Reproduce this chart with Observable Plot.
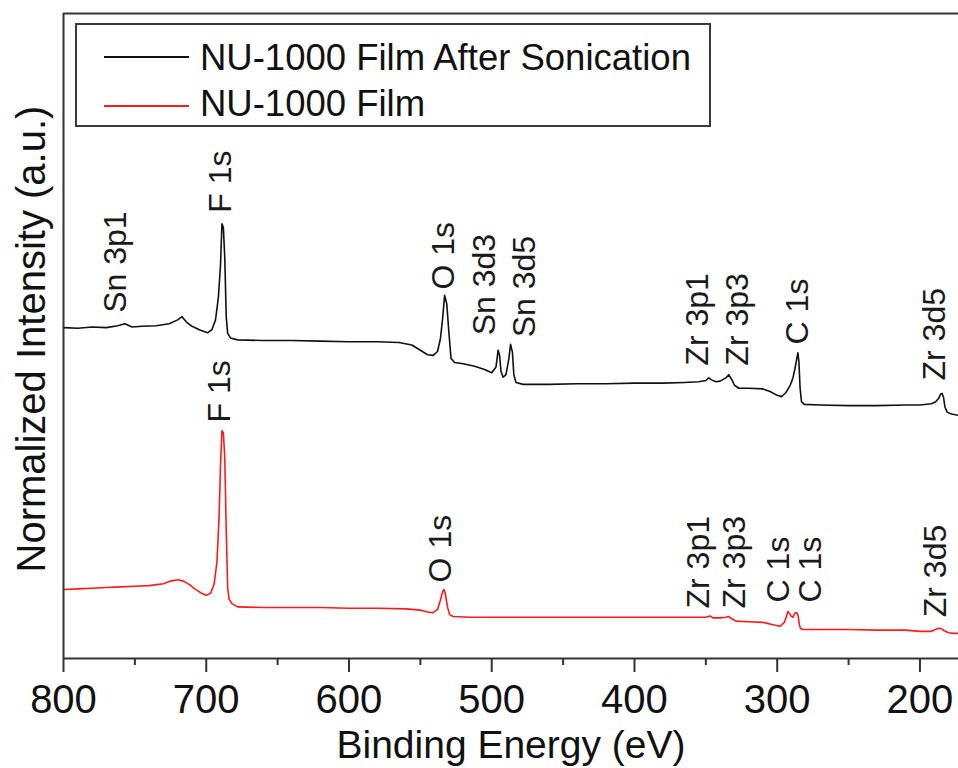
<!DOCTYPE html>
<html><head><meta charset="utf-8">
<script src="https://cdn.jsdelivr.net/npm/d3@7"></script>
<script src="https://cdn.jsdelivr.net/npm/@observablehq/plot@0.6"></script>
<style>
body{margin:0;background:#fff;}
#wrap{position:relative;width:958px;height:768px;font-family:"Liberation Sans",Arial,sans-serif;}
#legend{position:absolute;left:75px;top:23px;width:632px;height:100px;border:2px solid #3a3a3a;background:#fff;}
.sw{position:absolute;left:104px;width:85px;height:2px;}
.lt{position:absolute;left:200px;font-size:36.5px;line-height:36px;color:#111;white-space:nowrap;}
</style></head><body><div id="wrap"></div>
<script>
// Series: NU-1000 Film After Sonication (black)
const sonicEV = [
 800,790,780,770,762,757,752,745,735,726,
 720,717,714,710,704,699,696,693.5,691.5,690,
 689,688,687,686,685,683,678,660,640,620,
 600,580,565,556,550,545,541,538,536,534.5,
 533,531.5,530,528.5,526,520,512,505,500,497,
 495.5,494.5,493.5,492,490,488,486.8,485.5,484.5,483,
 478,460,440,420,400,380,365,355,350,348,
 346,343,340,336,334,332,330,327,320,310,
 305,300,297,294,291,289,287.5,286.3,285.5,284.8,
 284,283,281,270,250,230,210,200,192,189,
 187,185.5,184.5,183.5,182.5,181,178,173];
const sonicI = [
 51.3,51.2,51.4,51.3,51.6,51.9,51.4,51.5,51.6,51.9,
 52.5,53.0,52.2,51.5,50.9,50.5,51.0,52.5,56.0,61.0,
 67.4,66.8,62.0,53.0,50.4,49.7,49.4,49.3,49.3,49.2,
 49.1,49.1,49.0,48.6,47.8,47.1,47.0,47.6,49.5,52.5,
 56.3,55.0,50.5,46.5,45.9,45.7,45.3,44.8,44.3,45.2,
 47.8,47.0,44.5,43.6,44.0,46.5,48.7,47.5,44.0,42.8,
 42.5,42.5,42.6,42.6,42.7,42.7,42.8,42.9,43.1,43.5,
 43.2,42.9,43.0,43.5,44.0,43.3,42.4,41.9,41.9,41.8,
 41.4,40.8,40.6,41.2,42.3,43.5,45.0,46.5,47.4,46.0,
 42.0,39.8,39.4,39.3,39.2,39.2,39.3,39.3,39.5,39.8,
 40.3,41.0,41.1,40.5,39.0,38.2,37.9,37.7];

// Series: NU-1000 Film (red)
const filmEV = [
 800,790,780,770,760,750,740,730,725,720,
 716,712,708,704,700,697,694.5,692.5,691,690,
 689,688,687,686,685,684,682,678,660,640,
 620,600,580,560,550,545,541,538,536,534.5,
 533.5,532.5,531,529.5,527,515,500,480,460,440,
 420,400,380,360,350,347,345,340,336,334,
 332,329,320,310,302,298,295,293.5,292.5,291.5,
 290,289,288,287,286.2,285.3,284.5,283.5,282,270,
 250,230,210,200,193,190,188,186.5,185,183,
 180,176,173];
const filmI = [
 10.7,10.8,10.9,11.0,11.1,11.2,11.3,11.6,12.0,12.2,
 12.0,11.5,10.8,10.2,9.8,10.1,11.5,15.0,22.0,30.0,
 35.3,35.0,31.0,20.0,11.0,9.2,8.5,8.0,7.9,7.9,
 7.9,7.8,7.8,7.7,7.5,7.2,7.1,7.6,9.0,10.3,
 10.7,10.0,8.0,6.8,6.5,6.4,6.4,6.4,6.4,6.4,
 6.4,6.4,6.4,6.4,6.4,6.6,6.3,6.3,6.4,6.5,
 6.2,5.8,5.7,5.6,5.2,5.0,5.6,6.6,7.3,7.0,
 6.5,6.4,6.9,7.1,7.1,6.6,5.2,4.6,4.5,4.5,
 4.5,4.4,4.4,4.2,4.2,4.4,4.6,4.7,4.6,4.3,
 4.0,3.9,3.9];

// Peak labels
const sonicLabelText = ["Sn 3p1","F 1s","O 1s","Sn 3d3","Sn 3d5","Zr 3p1","Zr 3p3","C 1s","Zr 3d5"];
const sonicLabelEV   = [763.6, 690.0, 533.6, 504.9, 476.9, 355.6, 327.6, 285.5, 189.5];
const sonicLabelI    = [53.6, 69.1, 57.2, 50.1, 49.8, 45.4, 45.4, 48.7, 43.1];
const filmLabelText = ["F 1s","O 1s","Zr 3p1","Zr 3p3","C 1s","C 1s","Zr 3d5"];
const filmLabelEV   = [690.7, 535.8, 354.9, 329.7, 298.8, 276.4, 188.8];
const filmLabelI    = [36.6, 11.8, 7.75, 7.75, 8.7, 8.7, 6.4];

const majorTicks = [800,700,600,500,400,300,200];
const minorTicks = [750,650,550,450,350,250];
const seriesNames = ["NU-1000 Film After Sonication","NU-1000 Film"];
const seriesColors = ["#111111","#ff1a1a"];

const sonic = sonicEV.map((e,i)=>({ev:e, v:sonicI[i]}));
const film = filmEV.map((e,i)=>({ev:e, v:filmI[i]}));
const sonicLabels = sonicLabelText.map((t,i)=>({t, ev:sonicLabelEV[i], v:sonicLabelI[i]}));
const filmLabels = filmLabelText.map((t,i)=>({t, ev:filmLabelEV[i], v:filmLabelI[i]}));

const font = '"Liberation Sans", Arial, sans-serif';
const chart = Plot.plot({
  width: 958, height: 768,
  marginLeft: 63, marginRight: 0, marginTop: 13, marginBottom: 110,
  style: {fontFamily: font, background: "#fff", color: "#111", overflow: "visible"},
  x: {domain: [800, 173], axis: null},
  y: {domain: [0, 100], axis: null},
  marks: [
    Plot.line(sonic, {x: "ev", y: "v", stroke: seriesColors[0], strokeWidth: 1.6}),
    Plot.line(film, {x: "ev", y: "v", stroke: seriesColors[1], strokeWidth: 1.6}),
    Plot.text(sonicLabels, {x: "ev", y: "v", text: "t", rotate: -90, textAnchor: "start", lineAnchor: "middle", fontSize: 32, fill: "#1a1a1a"}),
    Plot.text(filmLabels, {x: "ev", y: "v", text: "t", rotate: -90, textAnchor: "start", lineAnchor: "middle", fontSize: 32, fill: "#1a1a1a"}),
    Plot.ruleY([100], {stroke: "#333", strokeWidth: 2}),
    Plot.ruleY([0], {stroke: "#333", strokeWidth: 2}),
    Plot.ruleX([800], {stroke: "#333", strokeWidth: 2}),
    Plot.axisX({ticks: majorTicks, tickSize: 14, tickPadding: 12, fontSize: 40, label: null, stroke: "#333", strokeWidth: 2, fill: "#111"}),
    Plot.axisX({ticks: minorTicks, tickSize: 7, tickFormat: () => "", label: null, stroke: "#333", strokeWidth: 2}),
    Plot.text(["Binding Energy (eV)"], {frameAnchor: "bottom", textAnchor: "middle", lineAnchor: "top", dy: 72, fontSize: 39, fill: "#111"}),
    Plot.text(["Normalized Intensity (a.u.)"], {frameAnchor: "left", rotate: -90, textAnchor: "middle", lineAnchor: "middle", dx: -31, dy: 3, fontSize: 40, fill: "#111"})
  ]
});
const wrap = document.getElementById("wrap");
wrap.appendChild(chart);
const lg = document.createElement("div");
lg.id = "legend";
wrap.appendChild(lg);
const lineTops = [56, 105];
const textTops = [40, 86];
seriesNames.forEach((n, i) => {
  const sw = document.createElement("div");
  sw.className = "sw"; sw.style.top = lineTops[i] + "px"; sw.style.background = seriesColors[i];
  sw.style.height = "1.5px";
  wrap.appendChild(sw);
  const t = document.createElement("div");
  t.className = "lt"; t.style.top = textTops[i] + "px"; t.textContent = n;
  wrap.appendChild(t);
});
</script>
</body></html>
